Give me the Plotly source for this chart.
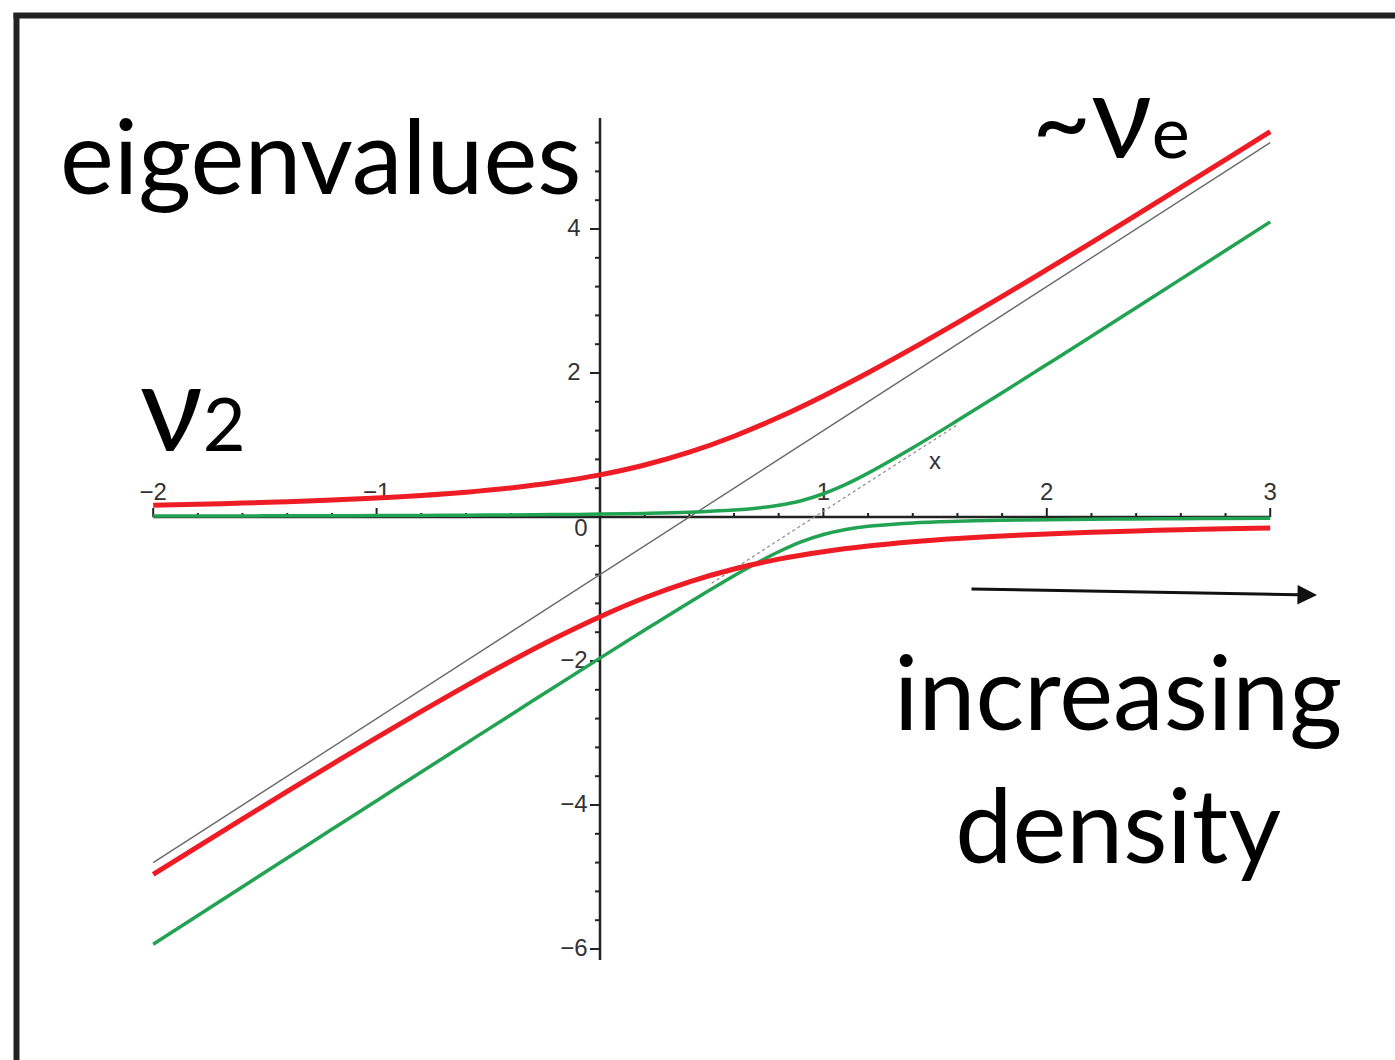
import plotly.graph_objects as go

W, H = 1395, 1060

# ---------------- data ----------------
x_red = [-2.0, -1.8, -1.6, -1.4, -1.2, -1.0, -0.8, -0.6, -0.4, -0.2, 0.0, 0.2, 0.4,
         0.6, 0.8, 1.0, 1.2, 1.4, 1.6, 1.8, 2.0, 2.2, 2.4, 2.6, 2.8, 3.0]
red_upper = [0.163, 0.177, 0.193, 0.212, 0.236, 0.264, 0.300, 0.345, 0.404, 0.482, 0.585,
             0.722, 0.900, 1.122, 1.385, 1.682, 2.004, 2.345, 2.700, 3.064, 3.436, 3.812,
             4.193, 4.577, 4.963, 5.352]
red_lower = [-4.963, -4.577, -4.193, -3.812, -3.436, -3.064, -2.700, -2.345, -2.004, -1.682,
             -1.385, -1.122, -0.900, -0.722, -0.585, -0.482, -0.404, -0.345, -0.300, -0.264,
             -0.236, -0.212, -0.193, -0.177, -0.163, -0.152]

x_green = [-2.0, -1.8, -1.6, -1.4, -1.2, -1.0, -0.8, -0.6, -0.4, -0.2, 0.0, 0.2, 0.4, 0.6,
           0.7, 0.8, 0.9, 1.0, 1.1, 1.2, 1.4, 1.6, 1.8, 2.0, 2.2, 2.4, 2.6, 2.8, 3.0]
green_upper = [0.013, 0.014, 0.015, 0.017, 0.018, 0.020, 0.022, 0.025, 0.029, 0.033, 0.040,
               0.050, 0.066, 0.096, 0.122, 0.163, 0.226, 0.323, 0.453, 0.609, 0.962, 1.339,
               1.725, 2.117, 2.511, 2.907, 3.304, 3.701, 4.099]
green_lower = [-5.933, -5.534, -5.135, -4.737, -4.338, -3.940, -3.542, -3.145, -2.749, -2.353,
               -1.960, -1.570, -1.186, -0.816, -0.642, -0.483, -0.346, -0.243, -0.173, -0.129,
               -0.082, -0.059, -0.045, -0.037, -0.031, -0.027, -0.024, -0.021, -0.019]

x_diag = [-2.0, 3.0]
diag = [-4.8, 5.2]

x_dotted = [0.5, 1.6]
dotted = [-0.92, 1.28]

x_major_ticks = [-2, -1, 1, 2, 3]
x_tick_labels = ["−2", "−1", "1", "2", "3"]
y_major_ticks = [-6, -4, -2, 2, 4]
y_tick_labels = ["−6", "−4", "−2", "2", "4"]

# ---------------- geometry ----------------
X0PX, XUNIT = 600.0, 223.4   # pixel of x=0, px per unit
Y0PX, YUNIT = 517.0, 72.0    # pixel of y=0, px per unit
xr = [(0 - X0PX) / XUNIT, (W - X0PX) / XUNIT]
yr = [(Y0PX - H) / YUNIT, Y0PX / YUNIT]


def px2x(p):
    return (p - X0PX) / XUNIT


def py2y(p):
    return (Y0PX - p) / YUNIT


fig = go.Figure()

AX = "#222222"
shapes = []
# axes lines
shapes.append(dict(type="line", xref="x", yref="y", x0=-2, x1=3, y0=0, y1=0,
                   line=dict(color=AX, width=2.5), layer="below"))
shapes.append(dict(type="line", xref="x", yref="y", x0=0, x1=0, y0=py2y(960), y1=py2y(118),
                   line=dict(color=AX, width=2.5), layer="below"))
# x ticks (upward)
for i in range(0, 26):
    xv = -2 + 0.2 * i
    major = abs(xv - round(xv)) < 1e-9
    ln = (9 if major else 4) / YUNIT
    shapes.append(dict(type="line", xref="x", yref="y", x0=xv, x1=xv, y0=0, y1=ln,
                       line=dict(color=AX, width=2), layer="below"))
# y ticks (leftward)
for i in range(0, 29):
    yv = -6 + 0.4 * i
    major = abs(yv / 2 - round(yv / 2)) < 1e-9
    ln = (10 if major else 5) / XUNIT
    shapes.append(dict(type="line", xref="x", yref="y", x0=-ln, x1=0, y0=yv, y1=yv,
                       line=dict(color=AX, width=2), layer="below"))
# frame
shapes.append(dict(type="line", xref="paper", yref="paper", x0=16.5 / W, x1=16.5 / W,
                   y0=1 - 13 / H, y1=-0.05, line=dict(color="#222222", width=6)))
shapes.append(dict(type="line", xref="paper", yref="paper", x0=13.5 / W, x1=1.05,
                   y0=1 - 15.5 / H, y1=1 - 15.5 / H, line=dict(color="#222222", width=6)))

# tick labels (as text trace, under curves)
tick_font = dict(family="Liberation Sans, Arial, sans-serif", size=24, color="#333333")
fig.add_trace(go.Scatter(x=x_major_ticks, y=[py2y(494)] * len(x_major_ticks), mode="text",
                         text=x_tick_labels, textposition="middle center",
                         textfont=tick_font, hoverinfo="skip"))
fig.add_trace(go.Scatter(x=[px2x(574)] * len(y_major_ticks),
                         y=[v - 0.02 for v in y_major_ticks], mode="text",
                         text=y_tick_labels, textposition="middle center",
                         textfont=tick_font, hoverinfo="skip"))
fig.add_trace(go.Scatter(x=[px2x(581)], y=[py2y(530)], mode="text", text=["0"],
                         textposition="middle center", textfont=tick_font, hoverinfo="skip"))
fig.add_trace(go.Scatter(x=[px2x(935)], y=[py2y(463)], mode="text", text=["x"],
                         textposition="middle center", textfont=tick_font, hoverinfo="skip"))

# lines
fig.add_trace(go.Scatter(x=x_dotted, y=dotted, mode="lines",
                         line=dict(color="#8a8a8a", width=1.2, dash="dot"), hoverinfo="skip"))
fig.add_trace(go.Scatter(x=x_diag, y=diag, mode="lines",
                         line=dict(color="#6a6a6a", width=1.4), hoverinfo="skip"))
GREEN = "#22a352"
RED = "#ee1c24"
fig.add_trace(go.Scatter(x=x_green, y=green_upper, mode="lines",
                         line=dict(color=GREEN, width=3.5, shape="spline"), hoverinfo="skip"))
fig.add_trace(go.Scatter(x=x_green, y=green_lower, mode="lines",
                         line=dict(color=GREEN, width=3.5, shape="spline"), hoverinfo="skip"))
fig.add_trace(go.Scatter(x=x_red, y=red_upper, mode="lines",
                         line=dict(color=RED, width=5, shape="spline"), hoverinfo="skip"))
fig.add_trace(go.Scatter(x=x_red, y=red_lower, mode="lines",
                         line=dict(color=RED, width=5, shape="spline"), hoverinfo="skip"))

BIG = dict(family="Lato, Open Sans, sans-serif", size=102, color="#000000")
annotations = [
    dict(x=px2x(58), y=py2y(154), xref="x", yref="y", text="eigenvalues", showarrow=False,
         xanchor="left", yanchor="middle", font=BIG),
    dict(x=px2x(138), y=py2y(404), xref="x", yref="y",
         text="<span style='font-size:122px'>ν</span><span style='font-size:74px'>2</span>",
         showarrow=False, xanchor="left", yanchor="middle", font=BIG),
    dict(x=px2x(1030), y=py2y(112), xref="x", yref="y",
         text="~<span style='font-size:118px'>ν</span><span style='font-size:72px'>e</span>",
         showarrow=False, xanchor="left", yanchor="middle", font=BIG),
    dict(x=px2x(1118), y=py2y(757), xref="x", yref="y", text="increasing<br>density",
         showarrow=False, xanchor="center", yanchor="middle", align="center", font=BIG),
    dict(x=px2x(1317), y=py2y(595), ax=px2x(970), ay=py2y(589), xref="x", yref="y",
         axref="x", ayref="y", text="", showarrow=True, arrowhead=2, arrowsize=1.3,
         arrowwidth=3, arrowcolor="#111111"),
]

fig.update_layout(
    width=W, height=H, margin=dict(l=0, r=0, t=0, b=0, pad=0),
    paper_bgcolor="white", plot_bgcolor="white", showlegend=False,
    xaxis=dict(range=xr, visible=False, fixedrange=True),
    yaxis=dict(range=yr, visible=False, fixedrange=True),
    shapes=shapes, annotations=annotations,
)

fig.write_html("out.html", config={"displayModeBar": False},
               post_script="document.body.style.margin='0';")
